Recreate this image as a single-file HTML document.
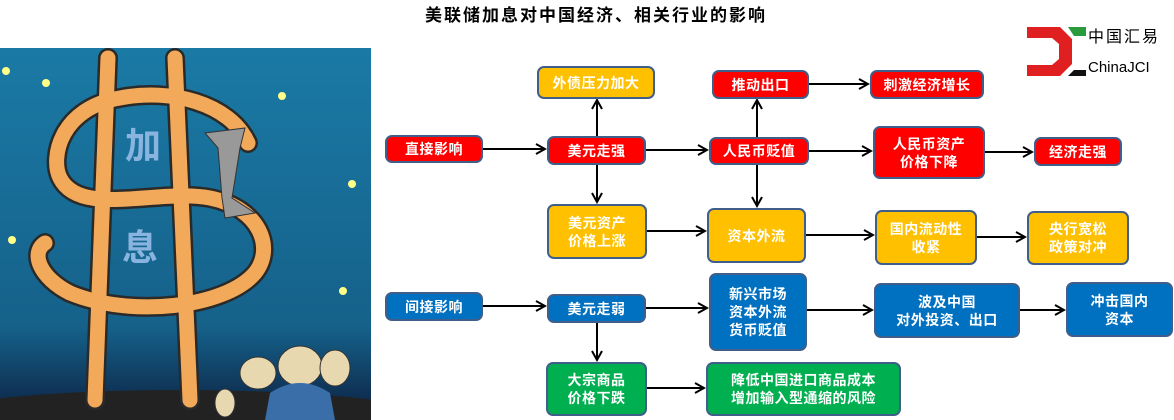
<!DOCTYPE html>
<html style="overflow:hidden;width:1174px;height:420px"><head><meta charset="utf-8"><style>
body{margin:0;width:1174px;height:420px;background:#fff;position:relative;overflow:hidden;font-family:"Liberation Sans","Noto Sans CJK SC",sans-serif}
svg{display:block}
.b{position:absolute;box-sizing:border-box;border:2px solid #3f5f8a;border-radius:7px;color:#fff;font-weight:bold;font-size:14px;display:flex;align-items:center;justify-content:center;text-align:center;line-height:18px;letter-spacing:0.5px}
.r{background:#ff0000}.o{background:#ffc000}.u{background:#0070c0}.g{background:#00b050}
.t{position:absolute;left:380px;top:1px;width:432px;text-align:center;font-weight:bold;font-size:17px;letter-spacing:2px;color:#000}
</style></head><body>
<div class="t">美联储加息对中国经济、相关行业的影响</div>
<svg style="position:absolute;left:0;top:48px" width="371" height="372">
<defs><linearGradient id="bg" x1="0" y1="0" x2="0" y2="1"><stop offset="0" stop-color="#1a7aa5"/><stop offset="0.75" stop-color="#15618a"/><stop offset="1" stop-color="#0c2040"/></linearGradient></defs>
<rect width="371" height="372" fill="url(#bg)"/>
<ellipse cx="180" cy="372" rx="260" ry="30" fill="#222"/>
<g fill="none" stroke="#2a2a2a" stroke-width="20" stroke-linecap="round"><path d="M248 95 C230 55 170 40 120 50 C60 60 50 110 60 130 C80 170 160 140 210 150 C260 160 275 200 255 225 C225 260 130 270 70 245 C40 230 30 205 45 195"/>
<line x1="108" y1="10" x2="95" y2="352"/><line x1="175" y1="10" x2="190" y2="352"/></g>
<g fill="none" stroke="#f2a95a" stroke-width="15" stroke-linecap="round"><path d="M248 95 C230 55 170 40 120 50 C60 60 50 110 60 130 C80 170 160 140 210 150 C260 160 275 200 255 225 C225 260 130 270 70 245 C40 230 30 205 45 195"/>
<line x1="108" y1="10" x2="95" y2="352"/><line x1="175" y1="10" x2="190" y2="352"/></g>
<text x="125" y="110" font-size="36" font-weight="bold" fill="#8ab4e0" font-family="Noto Sans CJK SC">加</text>
<text x="122" y="212" font-size="36" font-weight="bold" fill="#8ab4e0" font-family="Noto Sans CJK SC">息</text>
<path d="M205 85 L245 80 L240 100 L232 150 L255 165 L225 170 L222 150 L218 100Z" fill="#999" stroke="#333"/>
<g fill="#e8d8b0" stroke="#333"><ellipse cx="258" cy="325" rx="18" ry="16"/><ellipse cx="300" cy="318" rx="22" ry="20"/><ellipse cx="335" cy="320" rx="15" ry="18"/><ellipse cx="225" cy="355" rx="10" ry="14"/></g>
<path d="M270 345 Q300 325 330 345 L335 372 L265 372Z" fill="#3a6ea8"/>
<g fill="#ffff88"><circle cx="6" cy="23" r="4"/><circle cx="46" cy="35" r="4"/><circle cx="282" cy="48" r="4"/><circle cx="352" cy="136" r="4"/><circle cx="12" cy="192" r="4"/><circle cx="343" cy="243" r="4"/></g>
</svg>
<svg style="position:absolute;left:1026px;top:24px" width="148" height="54">
<path d="M1 3 H34 L46 15 V40 L34 52 H1 V41 H26 L33 35 V20 L26 14 H1Z" fill="#e02020"/>
<path d="M42 3 H60 V12 H48Z" fill="#2a9a3a"/><path d="M42 52 H60 V46 H48Z" fill="#111"/>
<text x="62" y="18" font-size="16" font-family="Noto Sans CJK SC" letter-spacing="2">中国汇易</text>
<text x="62" y="48" font-size="15" font-family="Liberation Sans">ChinaJCI</text>
</svg>
<svg style="position:absolute;left:0;top:0" width="1174" height="420" fill="none" stroke="#000" stroke-width="2">
<defs><marker id="a" markerWidth="12" markerHeight="12" refX="10" refY="6" orient="auto" markerUnits="userSpaceOnUse"><path d="M1 1 L10 6 L1 11" fill="none" stroke="#000" stroke-width="2"/></marker></defs>
<g marker-end="url(#a)">
<line x1="482" y1="149" x2="545" y2="149"/><line x1="645" y1="150" x2="707" y2="150"/><line x1="808" y1="151" x2="871" y2="151"/><line x1="984" y1="152" x2="1032" y2="152"/>
<line x1="597" y1="136" x2="597" y2="100"/><line x1="597" y1="164" x2="597" y2="202"/>
<line x1="757" y1="137" x2="757" y2="100"/><line x1="757" y1="164" x2="757" y2="206"/>
<line x1="808" y1="84" x2="868" y2="84"/>
<line x1="646" y1="231" x2="705" y2="231"/><line x1="805" y1="235" x2="873" y2="235"/><line x1="976" y1="237" x2="1025" y2="237"/>
<line x1="482" y1="306" x2="545" y2="306"/><line x1="645" y1="308" x2="707" y2="308"/><line x1="806" y1="310" x2="872" y2="310"/><line x1="1019" y1="310" x2="1064" y2="310"/>
<line x1="597" y1="322" x2="597" y2="360"/><line x1="646" y1="388" x2="704" y2="388"/>
</g></svg>
<div class="b o" style="left:537px;top:66px;width:118px;height:33px">外债压力加大</div>
<div class="b r" style="left:712px;top:70px;width:97px;height:29px">推动出口</div>
<div class="b r" style="left:870px;top:70px;width:114px;height:29px">刺激经济增长</div>
<div class="b r" style="left:385px;top:135px;width:98px;height:28px">直接影响</div>
<div class="b r" style="left:547px;top:136px;width:99px;height:29px">美元走强</div>
<div class="b r" style="left:709px;top:137px;width:100px;height:28px">人民币贬值</div>
<div class="b r" style="left:873px;top:126px;width:112px;height:53px">人民币资产<br>价格下降</div>
<div class="b r" style="left:1034px;top:137px;width:88px;height:29px">经济走强</div>
<div class="b o" style="left:547px;top:204px;width:100px;height:55px">美元资产<br>价格上涨</div>
<div class="b o" style="left:707px;top:208px;width:99px;height:55px">资本外流</div>
<div class="b o" style="left:875px;top:210px;width:102px;height:55px">国内流动性<br>收紧</div>
<div class="b o" style="left:1027px;top:211px;width:102px;height:54px">央行宽松<br>政策对冲</div>
<div class="b u" style="left:385px;top:292px;width:98px;height:29px">间接影响</div>
<div class="b u" style="left:547px;top:294px;width:99px;height:29px">美元走弱</div>
<div class="b u" style="left:709px;top:273px;width:98px;height:78px">新兴市场<br>资本外流<br>货币贬值</div>
<div class="b u" style="left:874px;top:283px;width:146px;height:55px">波及中国<br>对外投资、出口</div>
<div class="b u" style="left:1066px;top:282px;width:107px;height:55px">冲击国内<br>资本</div>
<div class="b g" style="left:546px;top:362px;width:101px;height:54px">大宗商品<br>价格下跌</div>
<div class="b g" style="left:706px;top:362px;width:195px;height:54px">降低中国进口商品成本<br>增加输入型通缩的风险</div>
</body></html>
